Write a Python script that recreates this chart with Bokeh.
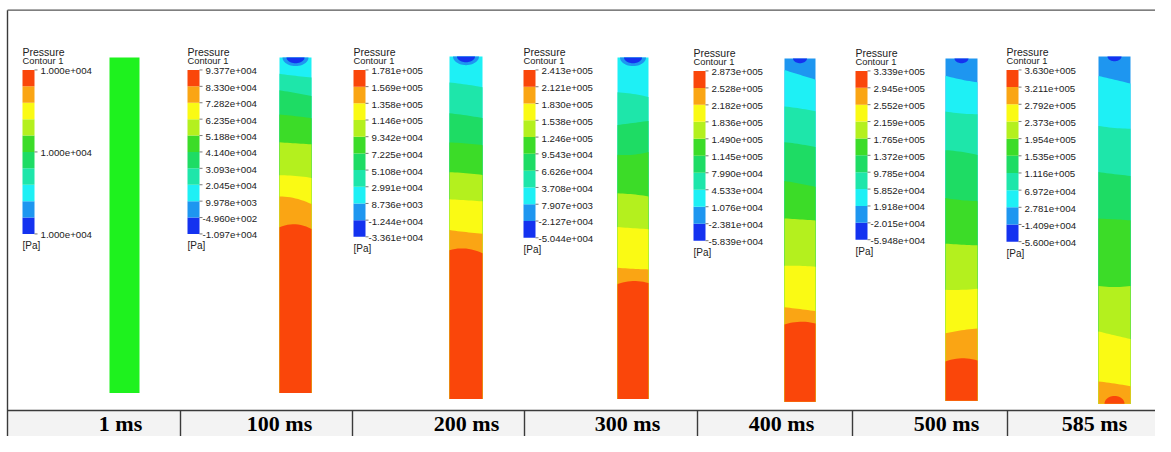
import numpy as np
from bokeh.plotting import figure
from bokeh.models import Range1d, ColumnDataSource
from bokeh.core.properties import value
from bokeh.embed import file_html
from bokeh.resources import INLINE

# ---------------- data ----------------
times = ["1 ms", "100 ms", "200 ms", "300 ms", "400 ms", "500 ms", "585 ms"]

legend_1ms = ["1.000e+004", "1.000e+004", "1.000e+004"]
legend_100ms = ["9.377e+004", "8.330e+004", "7.282e+004", "6.235e+004", "5.188e+004", "4.140e+004",
                "3.093e+004", "2.045e+004", "9.978e+003", "-4.960e+002", "-1.097e+004"]
legend_200ms = ["1.781e+005", "1.569e+005", "1.358e+005", "1.146e+005", "9.342e+004", "7.225e+004",
                "5.108e+004", "2.991e+004", "8.736e+003", "-1.244e+004", "-3.361e+004"]
legend_300ms = ["2.413e+005", "2.121e+005", "1.830e+005", "1.538e+005", "1.246e+005", "9.543e+004",
                "6.626e+004", "3.708e+004", "7.907e+003", "-2.127e+004", "-5.044e+004"]
legend_400ms = ["2.873e+005", "2.528e+005", "2.182e+005", "1.836e+005", "1.490e+005", "1.145e+005",
                "7.990e+004", "4.533e+004", "1.076e+004", "-2.381e+004", "-5.839e+004"]
legend_500ms = ["3.339e+005", "2.945e+005", "2.552e+005", "2.159e+005", "1.765e+005", "1.372e+005",
                "9.785e+004", "5.852e+004", "1.918e+004", "-2.015e+004", "-5.948e+004"]
legend_585ms = ["3.630e+005", "3.211e+005", "2.792e+005", "2.373e+005", "1.954e+005", "1.535e+005",
                "1.116e+005", "6.972e+004", "2.781e+004", "-1.409e+004", "-5.600e+004"]
legend_labels = [legend_1ms, legend_100ms, legend_200ms, legend_300ms,
                 legend_400ms, legend_500ms, legend_585ms]

# contour level at the top of each tube (0 = lowest level), None = uniform field
first_level = [None, 2, 2, 2, 1, 1, 1]

# depth of each band boundary along the tube (0 = top, 1 = bottom), at left wall / centre / right wall
bounds_1ms = []
bounds_100ms = [(0.049, 0.055, 0.060), (0.098, 0.106, 0.115), (0.170, 0.175, 0.181), (0.253, 0.256, 0.259),
                (0.351, 0.353, 0.359), (0.414, 0.420, 0.437), (0.506, 0.497, 0.511)]
bounds_200ms = [(0.076, 0.082, 0.090), (0.166, 0.172, 0.180), (0.251, 0.254, 0.259), (0.338, 0.341, 0.346),
                (0.417, 0.420, 0.423), (0.507, 0.513, 0.518), (0.566, 0.561, 0.575)]
bounds_300ms = [(0.102, 0.107, 0.116), (0.198, 0.192, 0.186), (0.285, 0.285, 0.277), (0.398, 0.401, 0.407),
                (0.497, 0.500, 0.503), (0.616, 0.619, 0.621), (0.664, 0.655, 0.661)]
bounds_400ms = [(0.034, 0.048, 0.062), (0.140, 0.146, 0.154), (0.244, 0.250, 0.258), (0.357, 0.365, 0.374),
                (0.466, 0.469, 0.472), (0.604, 0.604, 0.607), (0.725, 0.730, 0.736), (0.775, 0.767, 0.772)]
bounds_500ms = [(0.051, 0.062, 0.070), (0.155, 0.161, 0.163), (0.268, 0.273, 0.282), (0.408, 0.414, 0.417),
                (0.541, 0.544, 0.546), (0.676, 0.676, 0.673), (0.803, 0.794, 0.789), (0.885, 0.876, 0.882)]
bounds_585ms = [(0.056, 0.067, 0.078), (0.200, 0.206, 0.208), (0.333, 0.339, 0.344), (0.467, 0.469, 0.472),
                (0.661, 0.664, 0.661), (0.792, 0.803, 0.814), (0.936, 0.942, 0.950)]
bounds = [bounds_1ms, bounds_100ms, bounds_200ms, bounds_300ms, bounds_400ms, bounds_500ms, bounds_585ms]

# ---------------- styles / layout ----------------
level_colors = ["#1432f0", "#1e96f0", "#1ef0f5", "#1ee6aa", "#1edc64",
                "#3cdc28", "#b4f01e", "#fafa14", "#faa514", "#fa460a"]
uniform_color = "#1ef21e"

col_left = [109, 279, 449, 617, 784, 945, 1098]
col_width = [30, 32, 33, 31, 31, 32, 32]
col_top = [59, 59, 58, 59, 60, 60, 58]
col_bottom = [407, 407, 413, 413, 416, 415, 418]
cap_a = [0, 9, 9, 9, 7, 7, 7]
cap_b = [0, 6, 6, 6, 5, 5, 5]
leg_x = [22, 187, 353, 523, 693, 855, 1006]
leg_top = [72, 72, 72, 72, 73, 73, 72]
leg_bottom = [242, 242, 245, 246, 249, 248, 250]
sep_x = [180, 352, 524, 697, 852, 1007]
label_x = [120, 279, 466, 627, 781, 946, 1094]

SANS = value("Liberation Sans")
SERIF = value("Liberation Serif")

p = figure(width=1155, height=436, x_range=Range1d(0, 1155), y_range=Range1d(452, 0),
           output_backend="svg", toolbar_location=None, x_axis_location=None, y_axis_location=None,
           min_border=0, outline_line_color=None, background_fill_color="white",
           border_fill_color="white")
p.grid.visible = False

# ---- frame and bottom strip ----
p.quad(left=[7], right=[1171], top=[425], bottom=[452], fill_color="#f3f3f3", line_color=None)
p.segment(x0=[7, 7] + sep_x, y0=[425, 10] + [425] * len(sep_x),
          x1=[1171, 7] + sep_x, y1=[425, 452] + [452] * len(sep_x),
          line_color="#3a3a3a", line_width=1.4)
p.segment(x0=[7], y0=[10], x1=[1171], y1=[10], line_color="#555555", line_width=1.2)
p.text(x=label_x, y=[439] * len(times), text=times, text_font=SERIF, text_font_style="bold",
       text_font_size="22px", text_align="center", text_baseline="middle", text_color="black")

# ---- tubes ----
xs, ys, cs = [], [], []
for k in range(len(times)):
    x0, w = col_left[k], col_width[k]
    top, bot = col_top[k], col_bottom[k]
    L = bot - top
    xx = np.linspace(x0, x0 + w, 13)
    if first_level[k] is None:
        xs.append([x0, x0 + w, x0 + w, x0]); ys.append([top, top, bot, bot]); cs.append(uniform_color)
        continue
    lv = first_level[k]
    xs.append([x0, x0 + w, x0 + w, x0]); ys.append([top, top, bot, bot]); cs.append(level_colors[lv])
    for i, (l, m, r) in enumerate(bounds[k]):
        coef = np.polyfit([x0, x0 + w / 2, x0 + w], [l, m, r], 2)
        yy = top + np.polyval(coef, xx) * L
        xs.append(list(xx) + [x0 + w, x0]); ys.append(list(yy) + [bot, bot])
        cs.append(level_colors[lv + i + 1])
    # low-pressure cap at the tube mouth
    th = np.linspace(0, np.pi, 25)
    cx = x0 + w / 2
    if lv == 2:
        xs.append(list(cx + (cap_a[k] + 4) * np.cos(th))); ys.append(list(top + (cap_b[k] + 3) * np.sin(th)))
        cs.append(level_colors[1])
    xs.append(list(cx + cap_a[k] * np.cos(th))); ys.append(list(top + cap_b[k] * np.sin(th)))
    cs.append(level_colors[0])
    # highest pressure at the closed end once the top band has reached it
    last = lv + len(bounds[k])
    if last < 9:
        xs.append(list(cx + 10 * np.cos(th))); ys.append(list(bot - 8 * np.sin(th)))
        cs.append(level_colors[last + 1])

p.patches(xs="xs", ys="ys", fill_color="c", line_color=None,
          source=ColumnDataSource(dict(xs=xs, ys=ys, c=cs)))

# ---- legends ----
bx0, bx1, by0, by1, bc = [], [], [], [], []
tx0, tx1, ty = [], [], []
lx, ly, lt = [], [], []
hx, hy, ht, cx_, cy_, ct, px, py, pt = [], [], [], [], [], [], [], [], []
for k in range(len(times)):
    x, t, b = leg_x[k], leg_top[k], leg_bottom[k]
    edges = np.linspace(b, t, 11)
    for j in range(10):
        bx0.append(x); bx1.append(x + 12); by0.append(edges[j]); by1.append(edges[j + 1])
        bc.append(level_colors[j])
    labs = legend_labels[k]
    pos = np.linspace(t, b, len(labs))
    for s, yv in zip(labs, pos):
        tx0.append(x + 12); tx1.append(x + 15); ty.append(yv)
        lx.append(x + 18 - (3 if s.startswith("-") else 0)); ly.append(yv + 1.5); lt.append(s)
    hx.append(x); hy.append(t - 18.5); ht.append("Pressure")
    cx_.append(x); cy_.append(t - 9); ct.append("Contour 1")
    px.append(x); py.append(b + 12); pt.append("[Pa]")

p.quad(left=bx0, right=bx1, top=by1, bottom=by0, fill_color=bc, line_color=None)
p.segment(x0=tx0, y0=ty, x1=tx1, y1=ty, line_color="#555555", line_width=0.8)
p.text(x=lx, y=ly, text=lt, text_font=SANS, text_font_size="9.7px", text_color="#222222",
       text_baseline="middle", text_align="left")
p.text(x=hx, y=hy, text=ht, text_font=SANS, text_font_size="10.5px", text_color="#222222",
       text_baseline="middle", text_align="left")
p.text(x=cx_, y=cy_, text=ct, text_font=SANS, text_font_size="9.3px", text_color="#222222",
       text_baseline="middle", text_align="left")
p.text(x=px, y=py, text=pt, text_font=SANS, text_font_size="10px", text_color="#222222",
       text_baseline="middle", text_align="left")

open("out.html", "w").write(file_html(p, INLINE))
